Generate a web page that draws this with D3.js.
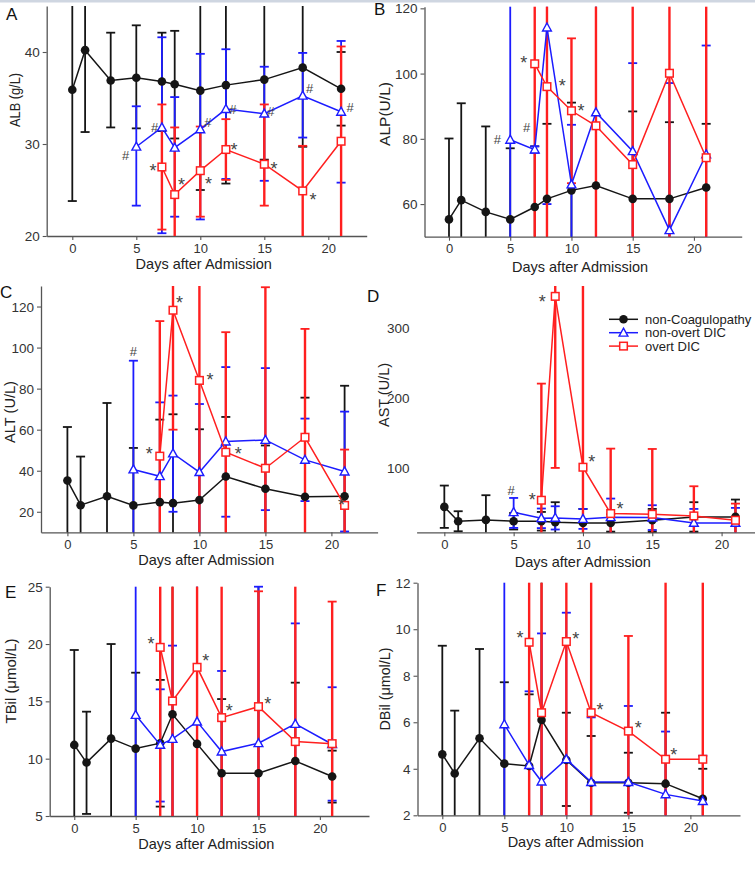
<!DOCTYPE html>
<html><head><meta charset="utf-8">
<script src="https://cdn.jsdelivr.net/npm/d3@7"></script>
<style>
html,body{margin:0;padding:0;background:#fff;}
svg{display:block;font-family:"Liberation Sans",Arial,Helvetica,sans-serif;}
</style></head><body>
<svg id="chart" width="755" height="869"></svg>
<script>
// ---------------- DATA ----------------
const seriesNames = ["non-Coagulopathy", "non-overt DIC", "overt DIC"];
const daysNonCoag  = [0, 1, 3, 5, 7, 8, 10, 12, 15, 18, 21];
const daysNonOvert = [5, 7, 8, 10, 12, 15, 18, 21];
const daysOvert    = [7, 8, 10, 12, 15, 18, 21];
const xTickValues  = [0, 5, 10, 15, 20];

// each entry: [mean, lower end of error bar, upper end of error bar]
// A: ALB (g/L)
const albNonCoag = [[35.9,23.8,48.0],[40.2,31.3,49.1],[36.9,31.8,42.1],[37.2,31.7,42.9],[36.8,31.4,42.1],[36.5,30.6,42.3],[35.8,25.0,46.6],[36.4,25.7,47.1],[37.0,28.3,45.7],[38.3,29.7,46.9],[36.0,32.0,40.0]];
const albNonOvert = [[29.7,23.3,34.1],[31.8,20.3,41.6],[29.6,22.1,35.1],[31.6,21.8,39.8],[33.8,26.2,40.3],[33.3,26.0,38.4],[35.25,30.7,39.9],[33.5,25.8,41.2]];
const albOvert = [[27.5,20.7,34.3],[24.5,17.0,31.8],[27.1,22.1,31.9],[29.4,26.1,32.7],[27.8,23.3,34.3],[24.9,15.0,29.8],[30.3,19.9,40.6]];
const albTicks = [20, 30, 40];
const albNotes = [["#",4.17,28.75],["#",6.43,31.8],["#",10.6,32.34],["#",12.55,33.8],["#",15.52,33.6],["#",18.54,36.1],["#",21.7,34.0],
                  ["*",6.3,27.55],["*",8.54,26.0],["*",10.65,26.1],["*",12.63,29.8],["*",15.76,27.77],["*",18.8,24.4]];

// B: ALP (U/L)
const alpNonCoag = [[55.3,30.5,80.1],[61.2,31.5,90.9],[57.6,31.4,83.8],[55.3,33.5,77.1],[59.1,40.5,77.7],[61.6,38.6,84.6],[64.2,37.3,91.1],[65.7,6.0,125.0],[61.6,34.8,88.4],[61.6,38.1,85.1],[65.1,45.6,84.6]];
const alpNonOvert = [[79.7,20.0,140.0],[76.7,75.7,77.7],[114.1,60.0,170.0],[66.0,47.7,84.3],[88.1,40.0,136.0],[76.2,49.2,103.2],[52.0,6.9,97.1],[75.2,41.8,108.6]];
const alpOvert = [[103.0,40.0,166.0],[96.0,30.0,162.0],[88.6,66.4,110.8],[84.0,30.0,138.0],[72.1,20.0,124.0],[100.1,40.0,160.0],[74.2,20.0,128.0]];
const alpTicks = [60, 80, 100, 120];
const alpNotes = [["#",3.94,79.7],["#",6.33,83.5],["*",6.11,104.7],["*",9.24,97.4],["*",10.78,89.9]];

// C: ALT (U/L)
const altNonCoag = [[35.2,9.1,61.3],[23.2,-0.5,46.9],[27.6,-17.8,73.0],[23.1,-4.9,51.1],[24.7,-15.5,64.9],[24.2,-19.1,67.5],[25.7,-8.8,60.2],[37.2,8.2,66.2],[31.2,9.5,52.3],[27.3,-21.0,75.6],[27.6,-26.0,81.4]];
const altNonOvert = [[40.6,-12.0,93.6],[37.3,1.3,73.3],[48.4,20.0,76.6],[39.3,6.0,72.5],[54.2,17.6,90.5],[55.0,20.8,90.0],[45.3,25.2,65.4],[39.6,10.4,68.8]];
const altOvert = [[47.1,-18.7,112.9],[118.2,60.0,176.0],[84.0,5.0,163.0],[49.0,-9.5,107.5],[41.2,-47.0,129.4],[56.3,3.5,109.1],[23.1,-4.0,50.3]];
const altTicks = [20, 40, 60, 80, 100, 120];
const altNotes = [["#",5.0,98.4],["*",6.2,50.3],["*",8.5,123.6],["*",10.8,86.3],["*",12.94,50.3],["*",20.76,25.2]];

// D: AST (U/L)
const astNonCoag = [[44.3,14.3,74.8],[23.8,9.5,38.1],[25.7,-9.6,61.0],[23.8,12.0,35.6],[23.8,10.5,37.1],[22.4,-6.0,51.0],[21.4,1.4,41.4],[21.4,9.0,33.8],[25.2,9.0,41.4],[30.0,9.0,51.0],[30.0,5.2,54.8]];
const astNonOvert = [[36.7,14.3,57.1],[28.1,14.0,42.0],[28.6,12.0,45.2],[27.1,12.9,41.4],[29.5,2.8,56.2],[29.0,11.3,46.7],[21.4,1.4,41.4],[21.4,0.0,42.9]];
const astOvert = [[53.8,-113.0,220.5],[345.2,100.0,590.0],[101.0,-200.0,400.0],[34.8,-58.0,127.6],[33.8,-59.5,127.1],[31.4,-11.0,73.8],[25.2,1.4,49.0]];
const astTicks = [100, 200, 300];
const astNotes = [["#",4.81,68.1],["*",6.35,60.5],["*",7.07,342.9],["*",10.63,114.3],["*",12.67,47.6]];

// E: TBil (μmol/L)
const tbilNonCoag = [[11.2,2.9,19.48],[9.66,5.18,14.1],[11.75,3.5,20.0],[10.88,4.3,17.5],[11.35,5.82,16.87],[13.87,1.9,25.9],[11.29,-3.7,26.3],[8.73,2.3,15.2],[8.73,-8.3,25.7],[9.8,3.0,16.63],[8.44,6.17,10.7]];
const tbilNonOvert = [[13.81,0.0,28.0],[11.2,6.26,16.05],[11.72,3.6,19.86],[13.23,0.0,27.0],[10.62,3.6,17.65],[11.35,-2.3,25.0],[13.03,4.3,21.8],[11.26,6.34,16.23]];
const tbilOvert = [[19.71,0.0,40.0],[15.03,0.0,30.0],[17.97,0.0,36.0],[13.58,0.0,27.0],[14.54,4.5,24.6],[11.49,0.0,27.0],[11.31,-1.1,23.7]];
const tbilTicks = [5, 10, 15, 20, 25];
const tbilNotes = [["*",6.25,20.35],["*",10.7,18.85],["*",12.62,14.49],["*",15.75,15.12]];

// F: DBil (μmol/L)
const dbilNonCoag = [[4.62,-0.05,9.29],[3.8,1.1,6.5],[5.31,1.47,9.15],[4.22,0.72,7.72],[4.12,1.04,7.2],[6.1,-0.4,12.6],[4.38,2.4,6.41],[3.4,1.39,5.41],[3.4,2.11,4.69],[3.36,0.31,6.41],[2.71,1.42,4.0]];
const dbilNonOvert = [[5.91,-1.0,13.0],[4.16,0.99,7.33],[3.45,-2.9,9.82],[4.41,-1.9,10.71],[3.43,0.65,6.21],[3.43,0.16,6.7],[2.9,0.2,5.6],[2.61,0.66,4.56]];
const dbilOvert = [[9.44,0.0,19.0],[6.41,0.0,13.0],[9.47,0.0,19.0],[6.41,0.0,13.0],[5.62,1.53,9.71],[4.41,0.0,13.0],[4.41,0.0,13.0]];
const dbilTicks = [2, 4, 6, 8, 10, 12];
const dbilNotes = [["*",6.27,9.79],["*",10.76,9.78],["*",12.72,6.71],["*",15.8,5.93],["*",18.66,4.76]];

// ---------------- LAYOUT ----------------
const panels = [
  {letter:"A", title:"ALB (g/L)", series:[albNonCoag,albNonOvert,albOvert], ticks:albTicks, notes:albNotes,
   xDomain:[-2,23], xRange:[46.7,366.7], yDomain:[20,45], yRange:[236,6], letterXY:[6,20], titleXYL:[14.5,100,54], xTitleY:264, yAxisLine:true},
  {letter:"B", title:"ALP(U/L)", series:[alpNonCoag,alpNonOvert,alpOvert], ticks:alpTicks, notes:alpNotes,
   xDomain:[-2,23.9], xRange:[424.5,741.7], yDomain:[50,120.5], yRange:[236.7,6.7], letterXY:[374,15], titleXYL:[385,114,64], xTitleY:266.5, yAxisLine:true},
  {letter:"C", title:"ALT (U/L)", series:[altNonCoag,altNonOvert,altOvert], ticks:altTicks, notes:altNotes,
   xDomain:[-2,23.5], xRange:[41,377.6], yDomain:[10,130], yRange:[532.3,286], letterXY:[0,298], titleXYL:[9.5,412,62], xTitleY:560, yAxisLine:true},
  {letter:"D", title:"AST (U/L)", series:[astNonCoag,astNonOvert,astOvert], ticks:astTicks, notes:astNotes,
   xDomain:[-2,22.41], xRange:[416.6,755], yDomain:[8,360], yRange:[532.3,286], letterXY:[367,302], titleXYL:[383.5,395,64], xTitleY:561.5, yAxisLine:false, legend:true},
  {letter:"E", title:"TBil (μmol/L)", series:[tbilNonCoag,tbilNonOvert,tbilOvert], ticks:tbilTicks, notes:tbilNotes,
   xDomain:[-2,24], xRange:[49.7,369], yDomain:[5,25], yRange:[816,586.7], letterXY:[5,598], titleXYL:[11,681,85], xTitleY:843.5, yAxisLine:true},
  {letter:"F", title:"DBil (μmol/L)", series:[dbilNonCoag,dbilNonOvert,dbilOvert], ticks:dbilTicks, notes:dbilNotes,
   xDomain:[-2,24], xRange:[417.5,740], yDomain:[2,12], yRange:[815.3,582.7], letterXY:[376,596], titleXYL:[385,689,83], xTitleY:842, yAxisLine:true}
];

const COLORS = ["#151515", "#1c1cff", "#ff1f1f"];
const BAR_W = [1.8, 1.8, 2.4];
const dayLists = [daysNonCoag, daysNonOvert, daysOvert];
const AXIS = "#555", TXT = "#333";

const svg = d3.select("#chart");
svg.append("rect").attr("x",0).attr("y",0).attr("width",755).attr("height",2.5).attr("fill","#cfd6e1");

function marker(g, s, cx, cy) {
  if (s === 0) {
    g.append("circle").attr("cx",cx).attr("cy",cy).attr("r",4.3).attr("fill",COLORS[0]);
  } else if (s === 1) {
    const p = d3.path();
    p.moveTo(cx, cy - 4.6); p.lineTo(cx + 4.4, cy + 3.4); p.lineTo(cx - 4.4, cy + 3.4); p.closePath();
    g.append("path").attr("d", p.toString()).attr("fill","#fff").attr("stroke",COLORS[1]).attr("stroke-width",1.4);
  } else {
    g.append("rect").attr("x",cx-3.8).attr("y",cy-3.8).attr("width",7.6).attr("height",7.6)
      .attr("fill","#fff").attr("stroke",COLORS[2]).attr("stroke-width",1.5);
  }
}

panels.forEach(p => {
  const x = d3.scaleLinear().domain(p.xDomain).range(p.xRange);
  const y = d3.scaleLinear().domain(p.yDomain).range(p.yRange);
  const g = svg.append("g");

  // x axis
  const gx = g.append("g").attr("transform",`translate(0,${p.yRange[0]})`)
    .call(d3.axisBottom(x).tickValues(xTickValues).tickSize(4).tickSizeOuter(0));
  gx.select(".domain").attr("stroke",AXIS).attr("stroke-width",1.3);
  gx.selectAll(".tick line").attr("stroke",AXIS).attr("stroke-width",1.1);
  gx.selectAll(".tick text").attr("y",12).attr("dy",null).attr("dominant-baseline","central")
    .attr("font-size",13).attr("fill",TXT);

  // y axis
  const gy = g.append("g").attr("transform",`translate(${p.xRange[0]},0)`)
    .call(d3.axisLeft(y).tickValues(p.ticks).tickSize(4).tickSizeOuter(0));
  gy.select(".domain").attr("stroke",AXIS).attr("stroke-width",1.3).attr("display", p.yAxisLine ? null : "none");
  gy.selectAll(".tick line").attr("stroke",AXIS).attr("stroke-width",1.1).attr("display", p.yAxisLine ? null : "none");
  gy.selectAll(".tick text").attr("x",-7).attr("dy",null).attr("dominant-baseline","central")
    .attr("font-size",13.5).attr("fill",TXT);
  gx.attr("font-family",null); gy.attr("font-family",null);

  // titles
  g.append("text").attr("x",(p.xRange[0]+p.xRange[1])/2 - 3).attr("y",p.xTitleY)
    .attr("text-anchor","middle").attr("dominant-baseline","central")
    .attr("font-size",14.5).attr("fill","#222").text("Days after Admission");
  const [tx, ty, tl] = p.titleXYL;
  g.append("text").attr("transform",`translate(${tx},${ty}) rotate(-90)`)
    .attr("text-anchor","middle").attr("dominant-baseline","central")
    .attr("font-size",14.5).attr("fill","#222")
    .attr("textLength",tl).attr("lengthAdjust","spacingAndGlyphs").text(p.title);
  g.append("text").attr("x",p.letterXY[0]).attr("y",p.letterXY[1])
    .attr("font-size",17).attr("fill","#111").text(p.letter);

  const [d0, d1] = p.yDomain;
  // error bars
  p.series.forEach((data, s) => {
    const days = dayLists[s];
    const eg = g.append("g").attr("stroke",COLORS[s]).attr("stroke-width",BAR_W[s]);
    data.forEach((v, i) => {
      const cx = x(days[i]);
      const lo = v[1], hi = v[2];
      eg.append("line").attr("x1",cx).attr("x2",cx)
        .attr("y1",y(Math.max(lo,d0))).attr("y2",y(Math.min(hi,d1)));
      if (lo >= d0) eg.append("line").attr("x1",cx-4.5).attr("x2",cx+4.5).attr("y1",y(lo)).attr("y2",y(lo)).attr("stroke-width",1.8);
      if (hi <= d1) eg.append("line").attr("x1",cx-4.5).attr("x2",cx+4.5).attr("y1",y(hi)).attr("y2",y(hi)).attr("stroke-width",1.8);
    });
  });
  // lines + markers
  p.series.forEach((data, s) => {
    const days = dayLists[s];
    const pts = data.map((v, i) => [x(days[i]), y(v[0])]);
    g.append("path").attr("d", d3.line()(pts)).attr("fill","none")
      .attr("stroke",COLORS[s]).attr("stroke-width",1.5);
    const mg = g.append("g");
    pts.forEach(pt => marker(mg, s, pt[0], pt[1]));
  });
  // significance marks
  p.notes.forEach(n => {
    const isStar = n[0] === "*";
    const fs = isStar ? 18 : 13;
    g.append("text").attr("x",x(n[1])).attr("y",y(n[2]) + (isStar ? 0.57 : 0.36) * fs)
      .attr("text-anchor","middle").attr("font-size",fs).attr("fill","#444").text(n[0]);
  });
  // legend
  if (p.legend) {
    const lg = g.append("g");
    seriesNames.forEach((name, s) => {
      const ly = 319.3 + s * 13.4;
      lg.append("line").attr("x1",609).attr("x2",638).attr("y1",ly).attr("y2",ly)
        .attr("stroke",COLORS[s]).attr("stroke-width",1.5);
      marker(lg, s, 623.5, ly);
      lg.append("text").attr("x",645).attr("y",ly).attr("dominant-baseline","central")
        .attr("font-size",13).attr("fill","#222").text(name);
    });
  }
});
</script>
</body></html>
